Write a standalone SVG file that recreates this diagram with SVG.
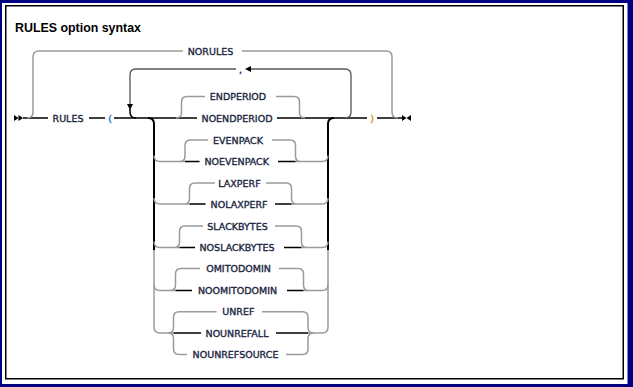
<svg xmlns="http://www.w3.org/2000/svg" width="633" height="387" viewBox="0 0 633 387">
<style>
.k{stroke:#000;stroke-width:1.5;fill:none}
.v{stroke:#000;stroke-width:2;fill:none}
.g{stroke:#9a9a9a;stroke-width:1.5;fill:none}
.lp{stroke:#555;stroke-width:1.3;fill:none}
.t{font-family:"DejaVu Sans",Verdana,sans-serif;font-size:9.5px;fill:#1b2640;stroke:#1b2640;stroke-width:0.35;text-anchor:middle}
.ttl{font-family:"Liberation Sans",Arial,sans-serif;font-size:12.4px;font-weight:bold;fill:#000}
.ah{fill:#000;stroke:none}
</style>
<rect x="0" y="0" width="633" height="387" fill="#000080"/>
<rect x="2" y="3" width="625.5" height="381" fill="#fff"/>
<rect x="5.75" y="5.75" width="617.5" height="373" fill="none" stroke="#000" stroke-width="1.5"/>
<text class="ttl" x="15" y="32">RULES option syntax</text>

<g id="connectors">
  <path class="ah" d="M14,115 L14,121 L18.5,118 Z M18.5,115 L18.5,121 L23,118 Z"/>
  <path class="ah" d="M402,115 L402,121 L406.5,118 Z M411,115 L411,121 L406.5,118 Z"/>
  <path class="k" d="M23,118 H48 M89,118 H105 M114,118 H197 M277,118 H367 M377,118 H402"/>
  <path class="g" d="M27,118 Q33,118 33,112 V57 Q33,51 39,51 H183 M242,51 H386 Q392,51 392,57 V112 Q392,118 398,118"/>
  <path class="lp" d="M345,118 Q351,118 351,112 V75 Q351,69 345,69 H251 M236,69 H136 Q130,69 130,75 V104"/>
  <path class="k" d="M130,109 V112 Q130,118 136,118"/>
  <path class="ah" d="M127,104 L133,104 L130,110 Z"/>
  <path class="ah" d="M251,66 L251,72 L245,69 Z"/>
  <path class="v" d="M148,118 Q154,118 154,124 V250"/>
  <path class="g" d="M154,250 V327 Q154,333 160,333 H173.5"/>
  <path class="v" d="M334,118 Q328,118 328,124 V250"/>
  <path class="g" d="M328,250 V327 Q328,333 322,333 H308"/>

  <path class="g" d="M176,118 Q181.5,118 181.5,112.5 V102 Q181.5,96.5 187,96.5 H205 M276,96.5 H294 Q299.5,96.5 299.5,102 V112.5 Q299.5,118 305,118"/>

  <path class="g" d="M154,155.5 Q154,161.5 160,161.5 H185 M179.5,161.5 Q185,161.5 185,156 V145.5 Q185,140 190.5,140 H208 M272,140 H290 Q295.5,140 295.5,145.5 V156 Q295.5,161.5 301,161.5 M295.5,161.5 H322 Q328,161.5 328,155.5"/>
  <path class="k" d="M185,161.5 H199.5 M278,161.5 H295.5"/>

  <path class="g" d="M154,198 Q154,204 160,204 H189.5 M184,204 Q189.5,204 189.5,198.5 V188.5 Q189.5,183 195,183 H215 M266,183 H286 Q291.5,183 291.5,188.5 V198.5 Q291.5,204 297,204 M291.5,204 H322 Q328,204 328,198"/>
  <path class="k" d="M189.5,204 H205.5 M275,204 H291.5"/>

  <path class="g" d="M154,241.5 Q154,247.5 160,247.5 H179.5 M174,247.5 Q179.5,247.5 179.5,242 V231.5 Q179.5,226 185,226 H203 M275,226 H296 Q301.5,226 301.5,231.5 V242 Q301.5,247.5 307,247.5 M301.5,247.5 H322 Q328,247.5 328,241.5"/>
  <path class="k" d="M179.5,247.5 H195 M284,247.5 H301.5"/>

  <path class="g" d="M154,284.5 Q154,290.5 160,290.5 H175.5 M170,290.5 Q175.5,290.5 175.5,285 V274 Q175.5,268.5 181,268.5 H200 M279,268.5 H298 Q303.5,268.5 303.5,274 V285 Q303.5,290.5 309,290.5 M303.5,290.5 H322 Q328,290.5 328,284.5"/>
  <path class="k" d="M175.5,290.5 H192 M287,290.5 H303.5"/>

  <path class="g" d="M168,333 Q173.5,333 173.5,327.5 V317.2 Q173.5,311.7 179,311.7 H216.5 M168,333 Q173.5,333 173.5,338.5 V349 Q173.5,354.5 179,354.5 H187 M262,311.7 H302.5 Q308,311.7 308,317.2 V327.5 Q308,333 313.5,333 M286,354.5 H302.5 Q308,354.5 308,349 V338.5 Q308,333 313.5,333"/>
  <path class="k" d="M173.5,333 H201 M276,333 H308"/>
</g>

<g id="n-norules"><text class="t" x="210.5" y="54.5">NORULES</text></g>
<g id="n-rules"><text class="t" x="68" y="121.5">RULES</text></g>
<g id="n-lparen"><text class="t" x="110" y="121.5" style="fill:#1f6fb5;stroke:#1f6fb5">(</text></g>
<g id="n-rparen"><text class="t" x="372" y="121.5" style="fill:#e08a00;stroke:#e08a00">)</text></g>
<g id="n-comma"><text class="t" x="240.5" y="72.5">,</text></g>
<g id="n-endperiod"><text class="t" x="238" y="100">ENDPERIOD</text></g>
<g id="n-noendperiod"><text class="t" x="237" y="121.5">NOENDPERIOD</text></g>
<g id="n-evenpack"><text class="t" x="238" y="143.5">EVENPACK</text></g>
<g id="n-noevenpack"><text class="t" x="236.7" y="165">NOEVENPACK</text></g>
<g id="n-laxperf"><text class="t" x="239.5" y="186.5">LAXPERF</text></g>
<g id="n-nolaxperf"><text class="t" x="239" y="207.5">NOLAXPERF</text></g>
<g id="n-slackbytes"><text class="t" x="237.5" y="229.5">SLACKBYTES</text></g>
<g id="n-noslackbytes"><text class="t" x="237" y="251">NOSLACKBYTES</text></g>
<g id="n-omitodomin"><text class="t" x="238.5" y="272">OMITODOMIN</text></g>
<g id="n-noomitodomin"><text class="t" x="237.5" y="294">NOOMITODOMIN</text></g>
<g id="n-unref"><text class="t" x="238.3" y="315.2">UNREF</text></g>
<g id="n-nounrefall"><text class="t" x="237" y="336.5">NOUNREFALL</text></g>
<g id="n-nounrefsource"><text class="t" x="235.5" y="358">NOUNREFSOURCE</text></g>
</svg>
